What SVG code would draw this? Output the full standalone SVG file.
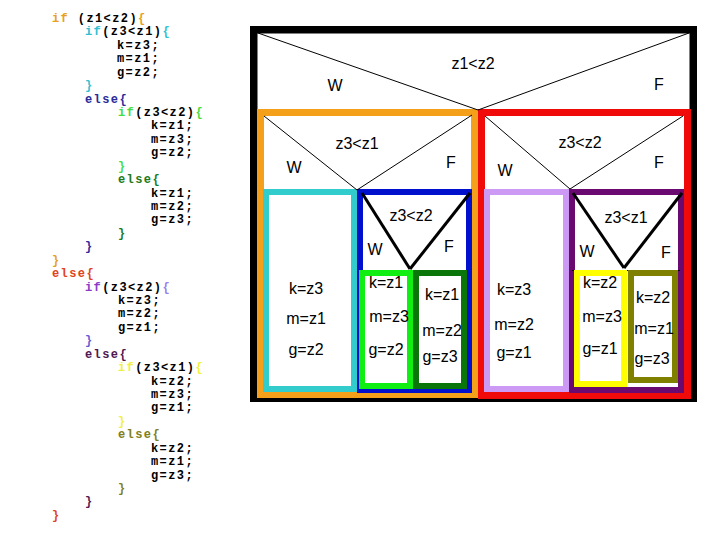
<svg xmlns="http://www.w3.org/2000/svg" width="720" height="540" viewBox="0 0 720 540">
<style>
.code{font-family:"Liberation Mono",monospace;font-weight:bold;font-size:12px;letter-spacing:1.4px;fill:#000}
.t{font-family:"Liberation Sans",Arial,sans-serif;font-size:16px;fill:#000;text-anchor:middle}
.box{fill:#fff}
.thin{stroke:#000;stroke-width:1;fill:none}
.thick{stroke:#000;stroke-width:3;fill:none}
</style>
<rect width="720" height="540" fill="#fff"/>
<g id="code" class="code">
<text x="52" y="22" xml:space="preserve"><tspan fill="#e8a020">if</tspan> (z1&lt;z2)<tspan fill="#e8a020">{</tspan></text>
<text x="85" y="35.4"><tspan fill="#33c0d0">if</tspan>(z3&lt;z1)<tspan fill="#33c0d0">{</tspan></text>
<text x="117" y="48.9">k=z3;</text>
<text x="117" y="62.3">m=z1;</text>
<text x="117" y="75.7">g=z2;</text>
<text x="85" y="89.1" fill="#33c0d0">}</text>
<text x="85" y="102.6" fill="#2a2a9a">else{</text>
<text x="118" y="116" ><tspan fill="#44dd44">if</tspan>(z3&lt;z2)<tspan fill="#44dd44">{</tspan></text>
<text x="151" y="129.4">k=z1;</text>
<text x="151" y="142.9">m=z3;</text>
<text x="151" y="156.3">g=z2;</text>
<text x="118" y="169.7" fill="#44dd44">}</text>
<text x="118" y="183.2" fill="#207a20">else{</text>
<text x="151" y="196.6">k=z1;</text>
<text x="151" y="210">m=z2;</text>
<text x="151" y="223.4">g=z3;</text>
<text x="118" y="236.9" fill="#207a20">}</text>
<text x="85" y="250.3" fill="#2a2a9a">}</text>
<text x="52" y="263.7" fill="#e8a020">}</text>
<text x="52" y="277.1" fill="#e04420">else{</text>
<text x="85" y="290.6"><tspan fill="#8a3cc8">if</tspan>(z3&lt;z2)<tspan fill="#9a80f0">{</tspan></text>
<text x="118" y="304">k=z3;</text>
<text x="118" y="317.4">m=z2;</text>
<text x="118" y="330.8">g=z1;</text>
<text x="85" y="344.3" fill="#6060d0">}</text>
<text x="85" y="357.7" fill="#501850">else{</text>
<text x="118" y="371.1"><tspan fill="#f0f040">if</tspan>(z3&lt;z1)<tspan fill="#f0f040">{</tspan></text>
<text x="151" y="384.6">k=z2;</text>
<text x="151" y="398">m=z3;</text>
<text x="151" y="411.4">g=z1;</text>
<text x="118" y="424.8" fill="#f0f040">}</text>
<text x="118" y="438.3" fill="#808020">else{</text>
<text x="151" y="451.7">k=z2;</text>
<text x="151" y="465.1">m=z1;</text>
<text x="151" y="478.5">g=z3;</text>
<text x="118" y="492" fill="#808020">}</text>
<text x="85" y="505.4" fill="#501850">}</text>
<text x="52" y="518.8" fill="#e04420">}</text>
</g>
<g id="outer">
<rect class="box" x="253.75" y="29.75" width="439.5" height="368.5" stroke="#000" stroke-width="7.5"/>
<text class="t" x="473" y="69">z1&lt;z2</text>
<text class="t" x="335" y="91">W</text>
<text class="t" x="659" y="90">F</text>
</g>
<g id="orange">
<rect class="box" x="260.5" y="112.5" width="214" height="282" stroke="#f5a01a" stroke-width="7"/>
<text class="t" x="357" y="149">z3&lt;z1</text>
<text class="t" x="294" y="173">W</text>
<text class="t" x="451" y="168">F</text>
</g>
<g id="red">
<rect class="box" x="481.5" y="112.5" width="206" height="283" stroke="#f00a0a" stroke-width="7"/>
<text class="t" x="580" y="148">z3&lt;z2</text>
<text class="t" x="505" y="176">W</text>
<text class="t" x="659" y="168">F</text>
</g>
<g id="cyan">
<rect class="box" x="266" y="192" width="88" height="197" stroke="#33cccc" stroke-width="6"/>
<text class="t" x="306" y="294">k=z3</text>
<text class="t" x="306" y="324">m=z1</text>
<text class="t" x="306" y="355">g=z2</text>
</g>
<g id="blue">
<rect class="box" x="360" y="192" width="109" height="198" stroke="#0010cc" stroke-width="6"/>
<text class="t" x="411" y="221">z3&lt;z2</text>
<text class="t" x="375" y="255">W</text>
<text class="t" x="449" y="252">F</text>
</g>
<g id="lavender">
<rect class="box" x="487" y="192" width="79" height="197" stroke="#cc99f5" stroke-width="6"/>
<text class="t" x="514" y="295">k=z3</text>
<text class="t" x="514" y="330">m=z2</text>
<text class="t" x="514" y="358">g=z1</text>
</g>
<g id="purple">
<rect class="box" x="572" y="192" width="109" height="198" stroke="#6a0a70" stroke-width="6"/>
<text class="t" x="626" y="223">z3&lt;z1</text>
<text class="t" x="587" y="257">W</text>
<text class="t" x="666" y="258">F</text>
</g>
<g id="connectors">
<line class="thin" x1="258" y1="33" x2="478" y2="110"/>
<line class="thin" x1="689" y1="33" x2="478" y2="110"/>
<line class="thin" x1="264" y1="116" x2="357" y2="190"/>
<line class="thin" x1="472" y1="115" x2="357" y2="190"/>
<line class="thin" x1="485" y1="116" x2="570" y2="189"/>
<line class="thin" x1="683" y1="116" x2="570" y2="189"/>
<line class="thick" x1="362" y1="193" x2="410" y2="269"/>
<line class="thick" x1="470" y1="193" x2="410" y2="269"/>
<line class="thick" x1="573" y1="193" x2="624" y2="268"/>
<line class="thick" x1="682" y1="193" x2="624" y2="268"/>
<line class="thin" x1="572" y1="270.5" x2="680" y2="270.5"/>
</g>
<g id="green">
<rect class="box" x="362" y="273" width="48" height="113" stroke="#11ee11" stroke-width="6"/>
<text class="t" x="386" y="288">k=z1</text>
<text class="t" x="389" y="322">m=z3</text>
<text class="t" x="386" y="355">g=z2</text>
</g>
<g id="darkgreen">
<rect class="box" x="416" y="273" width="48" height="113" stroke="#0a760a" stroke-width="6"/>
<text class="t" x="442" y="300">k=z1</text>
<text class="t" x="442" y="336">m=z2</text>
<text class="t" x="440" y="362">g=z3</text>
</g>
<g id="yellow">
<rect class="box" x="577" y="273" width="47" height="111" stroke="#ffff00" stroke-width="6"/>
<text class="t" x="600" y="288">k=z2</text>
<text class="t" x="602" y="322">m=z3</text>
<text class="t" x="600" y="354">g=z1</text>
</g>
<g id="olive">
<rect class="box" x="631" y="273" width="44" height="107" stroke="#808000" stroke-width="6"/>
<text class="t" x="653" y="303">k=z2</text>
<text class="t" x="654" y="334">m=z1</text>
<text class="t" x="652" y="364">g=z3</text>
</g>
</svg>
